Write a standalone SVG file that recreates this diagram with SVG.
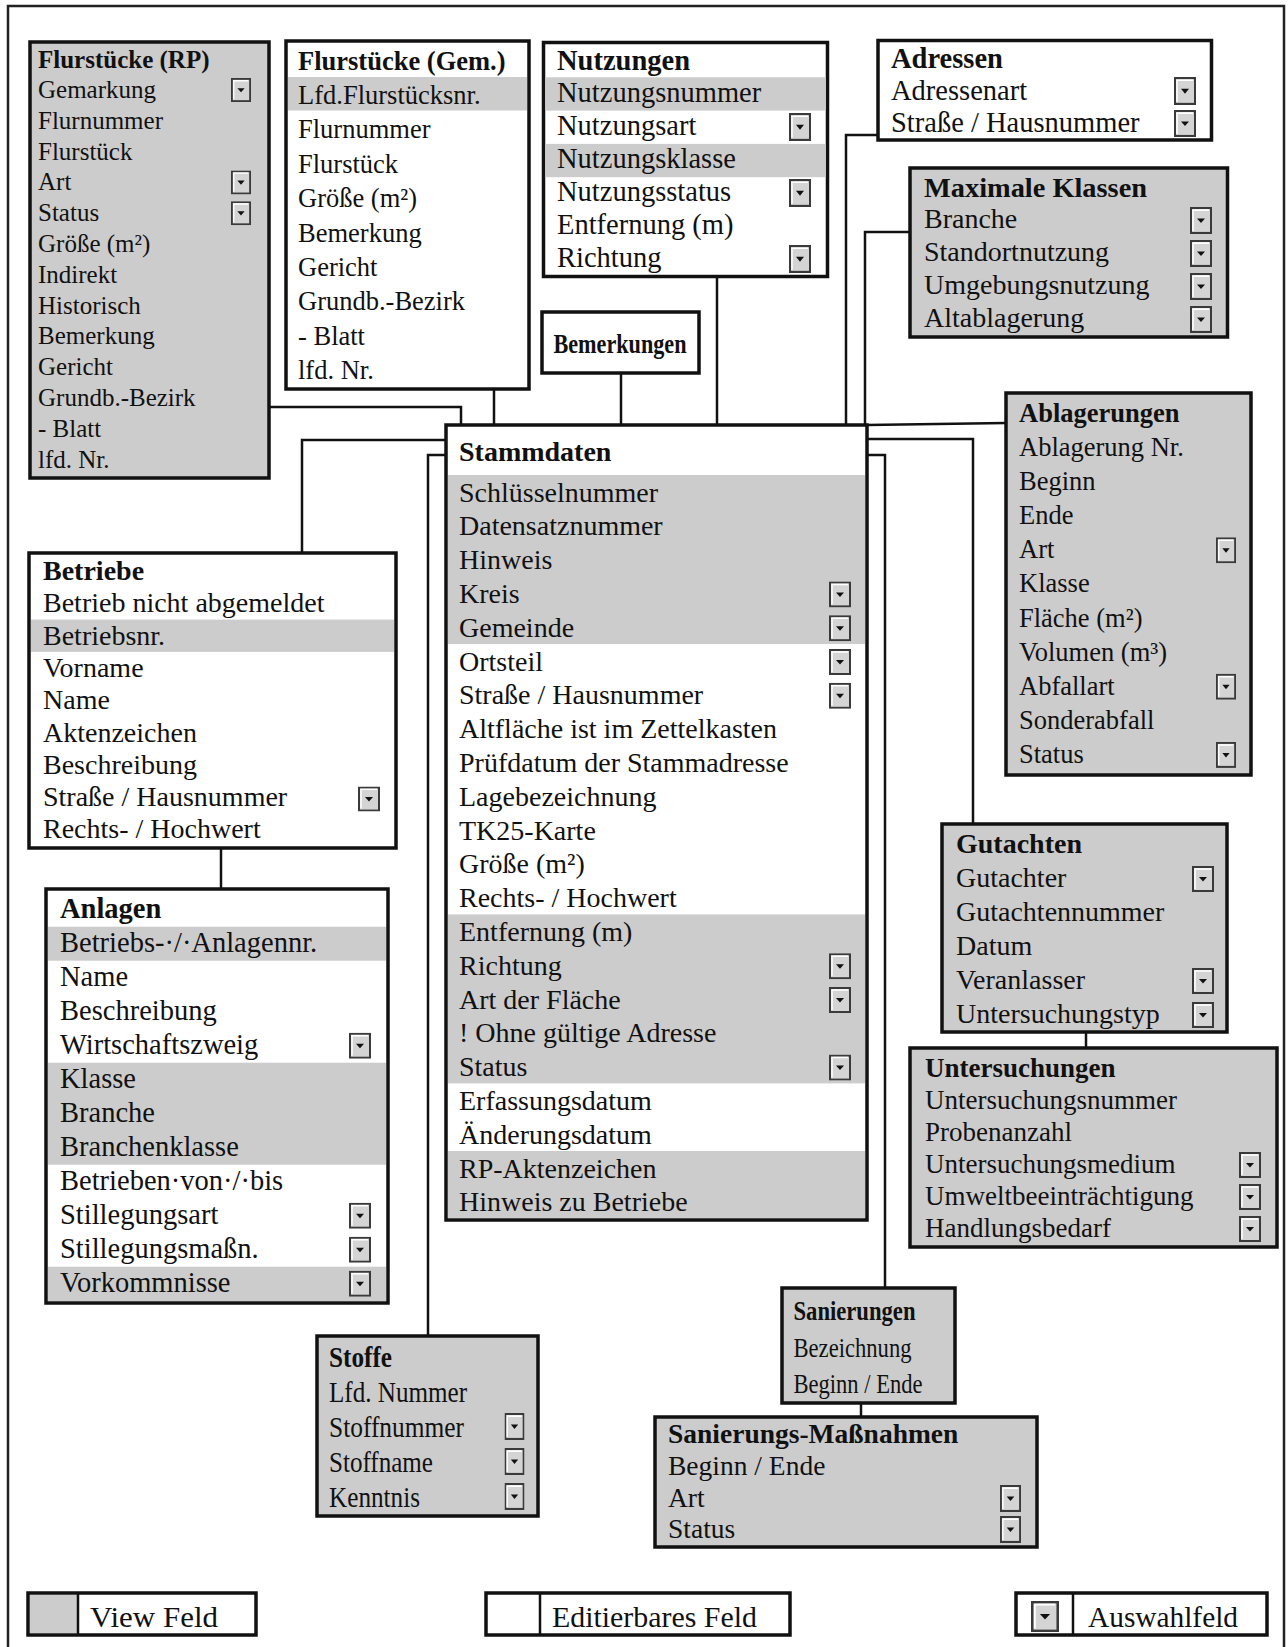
<svg xmlns="http://www.w3.org/2000/svg" xmlns:xlink="http://www.w3.org/1999/xlink" width="1288" height="1647" viewBox="0 0 1288 1647">
<style>
text{font-family:"Liberation Serif","Times New Roman",serif;fill:#111}
.t{font-weight:bold}
.box{stroke:#111;stroke-width:3.5}
.gr{fill:#cccccc}
.wh{fill:#ffffff}
.band{fill:#cccccc}
.conn{fill:none;stroke:#111;stroke-width:2.5}
.frame{fill:none;stroke:#222;stroke-width:2.5}
</style>
<defs>
<symbol id="dd" viewBox="0 0 22 26" preserveAspectRatio="none">
<rect x="1" y="1" width="20" height="24" fill="#d4d4d4" stroke="#3a3a3a" stroke-width="2"/>
<path d="M3 23V3H19" fill="none" stroke="#fff" stroke-width="1.5"/>
<path d="M7 11h8l-4 4.5z" fill="#111"/>
</symbol>
</defs>
<rect width="1288" height="1647" fill="#fff"/>
<path class="frame" d="M8 1650V6H1284V1650"/>

<g id="connectors">
<path class="conn" d="M269 407H461V425"/>
<path class="conn" d="M494 389V425"/>
<path class="conn" d="M621 373V425"/>
<path class="conn" d="M717 276V425"/>
<path class="conn" d="M878 135H846V425"/>
<path class="conn" d="M910 232H865V425"/>
<path class="conn" d="M867 425L1006 423"/>
<path class="conn" d="M867 439H973V824"/>
<path class="conn" d="M867 455H885V1288"/>
<path class="conn" d="M302 553V440H446"/>
<path class="conn" d="M446 455H428V1336"/>
<path class="conn" d="M221 848V889"/>
<path class="conn" d="M1086 1032V1048"/>
<path class="conn" d="M861 1403V1417"/>
</g>

<g id="flurstuecke-rp" font-size="25">
<rect class="box gr" x="30" y="42" width="239" height="436"/>
<text class="t" x="38" y="68">Flurstücke (RP)</text>
<text x="38" y="98">Gemarkung</text>
<text x="38" y="128.8">Flurnummer</text>
<text x="38" y="159.6">Flurstück</text>
<text x="38" y="190.4">Art</text>
<text x="38" y="221.2">Status</text>
<text x="38" y="252">Größe (m²)</text>
<text x="38" y="282.8">Indirekt</text>
<text x="38" y="313.6">Historisch</text>
<text x="38" y="344.4">Bemerkung</text>
<text x="38" y="375.2">Gericht</text>
<text x="38" y="406">Grundb.-Bezirk</text>
<text x="38" y="436.8">- Blatt</text>
<text x="38" y="467.6">lfd. Nr.</text>
<use href="#dd" x="231" y="78" width="20" height="24"/>
<use href="#dd" x="231" y="170.4" width="20" height="24"/>
<use href="#dd" x="231" y="201.2" width="20" height="24"/>
</g>

<g id="flurstuecke-gem" font-size="26.5">
<rect class="box wh" x="286" y="41" width="243" height="348"/>
<rect class="band" x="288" y="77" width="239" height="33.5"/>
<text class="t" x="298" y="70">Flurstücke (Gem.)</text>
<text x="298" y="104">Lfd.Flurstücksnr.</text>
<text x="298" y="138.4">Flurnummer</text>
<text x="298" y="172.8">Flurstück</text>
<text x="298" y="207.2">Größe (m²)</text>
<text x="298" y="241.6">Bemerkung</text>
<text x="298" y="276">Gericht</text>
<text x="298" y="310.4">Grundb.-Bezirk</text>
<text x="298" y="344.8">- Blatt</text>
<text x="298" y="379.2">lfd. Nr.</text>
</g>

<g id="nutzungen" font-size="28.5">
<rect class="box wh" x="543.5" y="42.5" width="284" height="234"/>
<rect class="band" x="545.5" y="77.3" width="280" height="33.3"/>
<rect class="band" x="545.5" y="143.9" width="280" height="33.3"/>
<text class="t" x="557" y="70">Nutzungen</text>
<text x="557" y="101.7">Nutzungsnummer</text>
<text x="557" y="134.8">Nutzungsart</text>
<text x="557" y="167.9">Nutzungsklasse</text>
<text x="557" y="201">Nutzungsstatus</text>
<text x="557" y="234.1">Entfernung (m)</text>
<text x="557" y="267.2">Richtung</text>
<use href="#dd" x="789" y="113" width="22" height="28"/>
<use href="#dd" x="789" y="179" width="22" height="28"/>
<use href="#dd" x="789" y="245" width="22" height="28"/>
</g>

<g id="adressen" font-size="28.5">
<rect class="box wh" x="878" y="40.5" width="333.5" height="99.5"/>
<text class="t" x="891" y="68">Adressen</text>
<text x="891" y="100">Adressenart</text>
<text x="891" y="131.7">Straße / Hausnummer</text>
<use href="#dd" x="1174" y="77" width="22" height="28"/>
<use href="#dd" x="1174" y="110" width="22" height="27"/>
</g>

<g id="maximale-klassen" font-size="28">
<rect class="box gr" x="910" y="168" width="317.5" height="169"/>
<text class="t" x="924" y="196.7" textLength="223" lengthAdjust="spacingAndGlyphs">Maximale Klassen</text>
<text x="924" y="228">Branche</text>
<text x="924" y="261">Standortnutzung</text>
<text x="924" y="294">Umgebungsnutzung</text>
<text x="924" y="327">Altablagerung</text>
<use href="#dd" x="1190" y="207" width="22" height="27"/>
<use href="#dd" x="1190" y="240" width="22" height="27"/>
<use href="#dd" x="1190" y="273" width="22" height="27"/>
<use href="#dd" x="1190" y="306" width="22" height="27"/>
</g>

<g id="bemerkungen" font-size="28">
<rect class="box wh" x="542" y="312" width="157" height="61"/>
<text class="t" x="553.5" y="353" textLength="133" lengthAdjust="spacingAndGlyphs">Bemerkungen</text>
</g>

<g id="stammdaten" font-size="28">
<rect class="box wh" x="446" y="425" width="421" height="795"/>
<rect class="band" x="448" y="475" width="417" height="169"/>
<rect class="band" x="448" y="914.4" width="417" height="169"/>
<rect class="band" x="448" y="1151" width="417" height="67"/>
<text class="t" x="459" y="461">Stammdaten</text>
<text x="459" y="501.5">Schlüsselnummer</text>
<text x="459" y="535.3">Datensatznummer</text>
<text x="459" y="569.1">Hinweis</text>
<text x="459" y="602.9">Kreis</text>
<text x="459" y="636.7">Gemeinde</text>
<text x="459" y="670.5">Ortsteil</text>
<text x="459" y="704.3">Straße / Hausnummer</text>
<text x="459" y="738.1">Altfläche ist im Zettelkasten</text>
<text x="459" y="771.9">Prüfdatum der Stammadresse</text>
<text x="459" y="805.7">Lagebezeichnung</text>
<text x="459" y="839.5">TK25-Karte</text>
<text x="459" y="873.3">Größe (m²)</text>
<text x="459" y="907.1">Rechts- / Hochwert</text>
<text x="459" y="940.9">Entfernung (m)</text>
<text x="459" y="974.7">Richtung</text>
<text x="459" y="1008.5">Art der Fläche</text>
<text x="459" y="1042.3">! Ohne gültige Adresse</text>
<text x="459" y="1076.1">Status</text>
<text x="459" y="1109.9">Erfassungsdatum</text>
<text x="459" y="1143.7">Änderungsdatum</text>
<text x="459" y="1177.5">RP-Aktenzeichen</text>
<text x="459" y="1211.3">Hinweis zu Betriebe</text>
<use href="#dd" x="829" y="581.4" width="22" height="26"/>
<use href="#dd" x="829" y="615.2" width="22" height="26"/>
<use href="#dd" x="829" y="649" width="22" height="26"/>
<use href="#dd" x="829" y="682.8" width="22" height="26"/>
<use href="#dd" x="829" y="953.2" width="22" height="26"/>
<use href="#dd" x="829" y="987" width="22" height="26"/>
<use href="#dd" x="829" y="1054.6" width="22" height="26"/>
</g>

<g id="betriebe" font-size="28">
<rect class="box wh" x="29" y="553" width="367" height="295"/>
<rect class="band" x="31" y="619.6" width="363" height="32.3"/>
<text class="t" x="43" y="580">Betriebe</text>
<text x="43" y="612.3">Betrieb nicht abgemeldet</text>
<text x="43" y="644.6">Betriebsnr.</text>
<text x="43" y="676.9">Vorname</text>
<text x="43" y="709.2">Name</text>
<text x="43" y="741.5">Aktenzeichen</text>
<text x="43" y="773.8">Beschreibung</text>
<text x="43" y="806.1">Straße / Hausnummer</text>
<text x="43" y="838.4">Rechts- / Hochwert</text>
<use href="#dd" x="358" y="786.5" width="22" height="25"/>
</g>

<g id="anlagen" font-size="28.5">
<rect class="box wh" x="46" y="889" width="342" height="414"/>
<rect class="band" x="48" y="926.7" width="338" height="34"/>
<rect class="band" x="48" y="1062.7" width="338" height="102"/>
<rect class="band" x="48" y="1266.7" width="338" height="34.3"/>
<text class="t" x="60" y="918">Anlagen</text>
<text x="60" y="951.7">Betriebs-·/·Anlagennr.</text>
<text x="60" y="985.7">Name</text>
<text x="60" y="1019.7">Beschreibung</text>
<text x="60" y="1053.7">Wirtschaftszweig</text>
<text x="60" y="1087.7">Klasse</text>
<text x="60" y="1121.7">Branche</text>
<text x="60" y="1155.7">Branchenklasse</text>
<text x="60" y="1189.7">Betrieben·von·/·bis</text>
<text x="60" y="1223.7">Stillegungsart</text>
<text x="60" y="1257.7">Stillegungsmaßn.</text>
<text x="60" y="1291.7">Vorkommnisse</text>
<use href="#dd" x="349" y="1032.7" width="22" height="26"/>
<use href="#dd" x="349" y="1202.7" width="22" height="26"/>
<use href="#dd" x="349" y="1236.7" width="22" height="26"/>
<use href="#dd" x="349" y="1270.7" width="22" height="26"/>
</g>

<g id="ablagerungen" font-size="26.5">
<rect class="box gr" x="1006" y="393" width="245" height="382"/>
<text class="t" x="1019" y="421.7">Ablagerungen</text>
<text x="1019" y="456">Ablagerung Nr.</text>
<text x="1019" y="490.1">Beginn</text>
<text x="1019" y="524.2">Ende</text>
<text x="1019" y="558.3">Art</text>
<text x="1019" y="592.4">Klasse</text>
<text x="1019" y="626.5">Fläche (m²)</text>
<text x="1019" y="660.6">Volumen (m³)</text>
<text x="1019" y="694.7">Abfallart</text>
<text x="1019" y="728.8">Sonderabfall</text>
<text x="1019" y="762.9">Status</text>
<use href="#dd" x="1216" y="537.3" width="20" height="26"/>
<use href="#dd" x="1216" y="673.7" width="20" height="26"/>
<use href="#dd" x="1216" y="741.9" width="20" height="26"/>
</g>

<g id="gutachten" font-size="28">
<rect class="box gr" x="942" y="824" width="285" height="208"/>
<text class="t" x="956" y="853">Gutachten</text>
<text x="956" y="887">Gutachter</text>
<text x="956" y="921">Gutachtennummer</text>
<text x="956" y="955">Datum</text>
<text x="956" y="989">Veranlasser</text>
<text x="956" y="1023">Untersuchungstyp</text>
<use href="#dd" x="1192" y="866" width="22" height="26"/>
<use href="#dd" x="1192" y="968" width="22" height="26"/>
<use href="#dd" x="1192" y="1002" width="22" height="26"/>
</g>

<g id="untersuchungen" font-size="27">
<rect class="box gr" x="910" y="1048" width="367" height="199"/>
<text class="t" x="925" y="1076.7">Untersuchungen</text>
<text x="925" y="1108.5">Untersuchungsnummer</text>
<text x="925" y="1140.5">Probenanzahl</text>
<text x="925" y="1172.5">Untersuchungsmedium</text>
<text x="925" y="1204.5">Umweltbeeinträchtigung</text>
<text x="925" y="1236.5">Handlungsbedarf</text>
<use href="#dd" x="1239" y="1152" width="22" height="26"/>
<use href="#dd" x="1239" y="1184" width="22" height="26"/>
<use href="#dd" x="1239" y="1216" width="22" height="26"/>
</g>

<g id="sanierungen" font-size="28">
<rect class="box gr" x="782" y="1288" width="173" height="115"/>
<text class="t" x="793.5" y="1320" textLength="122" lengthAdjust="spacingAndGlyphs">Sanierungen</text>
<text x="793.5" y="1356.7" textLength="118" lengthAdjust="spacingAndGlyphs">Bezeichnung</text>
<text x="793.5" y="1393" textLength="129" lengthAdjust="spacingAndGlyphs">Beginn / Ende</text>
</g>

<g id="sanierungs-massnahmen" font-size="27.5">
<rect class="box gr" x="655" y="1417" width="382" height="130"/>
<text class="t" x="668" y="1443">Sanierungs-Maßnahmen</text>
<text x="668" y="1475">Beginn / Ende</text>
<text x="668" y="1506.7">Art</text>
<text x="668" y="1538">Status</text>
<use href="#dd" x="1000" y="1485" width="21" height="27"/>
<use href="#dd" x="1000" y="1516" width="21" height="27"/>
</g>

<g id="stoffe" font-size="30">
<rect class="box gr" x="317" y="1336" width="221" height="180"/>
<text class="t" x="329" y="1366.7" textLength="63" lengthAdjust="spacingAndGlyphs">Stoffe</text>
<text x="329" y="1401.7" textLength="138" lengthAdjust="spacingAndGlyphs">Lfd. Nummer</text>
<text x="329" y="1436.7" textLength="135" lengthAdjust="spacingAndGlyphs">Stoffnummer</text>
<text x="329" y="1471.7" textLength="104" lengthAdjust="spacingAndGlyphs">Stoffname</text>
<text x="329" y="1506.7" textLength="91" lengthAdjust="spacingAndGlyphs">Kenntnis</text>
<use href="#dd" x="504.5" y="1413" width="20" height="27"/>
<use href="#dd" x="504.5" y="1448" width="20" height="27"/>
<use href="#dd" x="504.5" y="1483" width="20" height="27"/>
</g>

<g id="legend-view" font-size="30">
<rect class="box wh" x="28" y="1593" width="228" height="42"/>
<rect class="band" x="30" y="1595" width="48" height="38"/>
<line x1="78" y1="1593" x2="78" y2="1635" stroke="#111" stroke-width="2.5"/>
<text x="90" y="1627" textLength="128" lengthAdjust="spacingAndGlyphs">View Feld</text>
</g>
<g id="legend-edit" font-size="30">
<rect class="box wh" x="486" y="1593" width="304" height="42"/>
<line x1="540" y1="1593" x2="540" y2="1635" stroke="#111" stroke-width="2.5"/>
<text x="552" y="1627" textLength="205" lengthAdjust="spacingAndGlyphs">Editierbares Feld</text>
</g>
<g id="legend-auswahl" font-size="30">
<rect class="box wh" x="1016" y="1593" width="251" height="42"/>
<line x1="1073" y1="1593" x2="1073" y2="1635" stroke="#111" stroke-width="2.5"/>
<use href="#dd" x="1031" y="1601" width="28" height="31"/>
<text x="1088" y="1627" textLength="150" lengthAdjust="spacingAndGlyphs">Auswahlfeld</text>
</g>
</svg>
